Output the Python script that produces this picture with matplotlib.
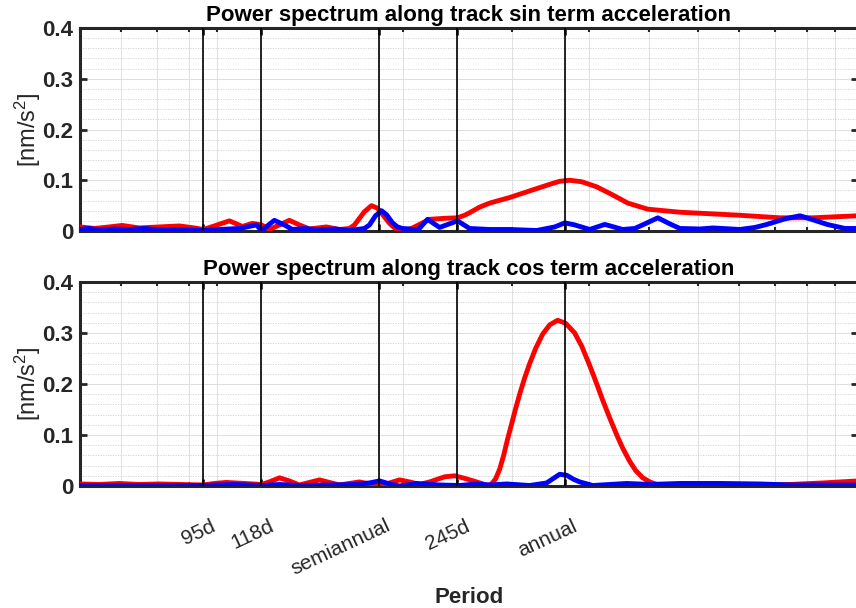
import matplotlib
matplotlib.use("Agg")
import matplotlib.pyplot as plt
from matplotlib.ticker import FixedLocator, LogLocator, MultipleLocator, NullFormatter
from matplotlib.transforms import ScaledTranslation

plt.rcParams["font.family"] = ["Liberation Sans", "DejaVu Sans"]
plt.rcParams["mathtext.default"] = "regular"

# Data -------

# marked periods (days)
mark_periods = [95, 118, 182.625, 245, 365.25]
mark_labels = ["95d", "118d", "semiannual", "245d", "annual"]

y_ticks = [0, 0.1, 0.2, 0.3, 0.4]
y_labels = ["0", "0.1", "0.2", "0.3", "0.4"]

# sin term, red
sin_red_period = [60, 63.3, 66.9, 70.2, 74.8, 80.6, 86.9, 91.9, 95, 99.0, 104.7, 109.9,
                  114.1, 118.0, 121.5, 126.2, 130.9, 135.9, 141.1, 150.3, 157.8, 163.8,
                  166.9, 170.0, 173.2, 177.8, 181.8, 186.0, 190.2, 193.8, 197.4, 201.9,
                  207.2, 220.8, 233.5, 245, 251.6, 256.3, 266.0, 276.2, 297.6, 320.6,
                  345.5, 352.0, 358.6, 372.2, 389.3, 411.7, 435.4, 462.2, 498.0, 561.2,
                  604.6, 702.0, 815.0, 921.8, 1000.6, 1090]
sin_red_power = [0.008, 0.005, 0.008, 0.011, 0.006, 0.008, 0.010, 0.006, 0.003, 0.010, 0.020, 0.009,
                 0.015, 0.012, 0.003, 0.012, 0.021, 0.012, 0.004, 0.008, 0.003, 0.005,
                 0.012, 0.025, 0.038, 0.050, 0.045, 0.030, 0.015, 0.006, 0.001, 0.001,
                 0.006, 0.023, 0.025, 0.026, 0.031, 0.036, 0.047, 0.055, 0.066, 0.079,
                 0.092, 0.095, 0.098, 0.100, 0.097, 0.087, 0.072, 0.055, 0.043, 0.037,
                 0.035, 0.031, 0.026, 0.026, 0.028, 0.030]

# sin term, blue
sin_blue_period = [60, 62.1, 64.4, 68.2, 72.1, 76.2, 80.6, 85.3, 90.2, 95, 100.8, 108.7,
                   112.8, 115.8, 118.0, 120.6, 123.8, 128.5, 132.4, 138.5, 146.5, 154.9,
                   163.8, 173.2, 176.5, 180.5, 184.6, 188.1, 192.3, 195.9, 199.6, 204.9,
                   211.1, 219.1, 229.2, 245, 256.3, 276.2, 297.6, 329.1, 352.0, 365.4,
                   379.2, 401.1, 424.2, 453.6, 474.4, 492.5, 516.9, 540.6, 561.2, 604.6,
                   634.8, 702.0, 742.4, 776.3, 830.3, 878.1, 911.5, 971.2, 1038.7, 1090]
sin_blue_power = [0.003, 0.005, 0.002, 0.004, 0.003, 0.005, 0.002, 0.003, 0.002, 0.001, 0.003, 0.005,
                  0.009, 0.012, 0.001, 0.010, 0.021, 0.012, 0.003, 0.005, 0.002, 0.004,
                  0.001, 0.005, 0.012, 0.030, 0.040, 0.032, 0.016, 0.008, 0.005, 0.004,
                  0.001, 0.023, 0.007, 0.020, 0.005, 0.003, 0.003, 0.001, 0.008, 0.016,
                  0.012, 0.003, 0.013, 0.003, 0.005, 0.014, 0.026, 0.014, 0.005, 0.004,
                  0.006, 0.003, 0.007, 0.013, 0.024, 0.030, 0.024, 0.013, 0.005, 0.005]

# cos term, red
cos_red_period = [60, 64.4, 69.4, 74.8, 80.6, 86.9, 95, 99.0, 103.5, 110.7, 118.0, 121.5,
                  126.2, 130.9, 135.9, 141.1, 146.5, 152.0, 157.8, 163.8, 170.0, 176.5,
                  182.6, 190.2, 197.4, 204.9, 212.7, 220.8, 233.5, 242.4, 251.6, 263.1,
                  274.1, 278.2, 282.4, 286.7, 291.0, 295.3, 299.8, 304.3, 308.9, 314.7,
                  320.6, 327.9, 336.6, 345.5, 355.9, 366.7, 379.2, 389.3, 401.1, 411.7,
                  421.0, 432.2, 443.6, 453.6, 465.7, 476.2, 488.8, 501.7, 515.0, 540.6,
                  651.5, 756.3, 846.0, 956.8, 1090]
cos_red_power = [0.004, 0.003, 0.005, 0.003, 0.004, 0.003, 0.002, 0.005, 0.007, 0.005, 0.003, 0.008,
                 0.016, 0.010, 0.002, 0.007, 0.012, 0.007, 0.002, 0.005, 0.008, 0.004,
                 0.000, 0.006, 0.012, 0.008, 0.003, 0.008, 0.018, 0.020, 0.015, 0.008,
                 0.001, 0.004, 0.014, 0.033, 0.060, 0.092, 0.122, 0.152, 0.180, 0.212,
                 0.240, 0.270, 0.298, 0.316, 0.325, 0.319, 0.300, 0.274, 0.236, 0.200,
                 0.168, 0.133, 0.100, 0.074, 0.048, 0.030, 0.016, 0.008, 0.003, 0.001,
                 0.001, 0.002, 0.003, 0.006, 0.010]

# cos term, blue
cos_blue_period = [60, 69.4, 80.6, 95, 105.9, 118.0, 126.2, 135.9, 152.0, 166.9, 176.5, 183.2,
                   190.2, 197.4, 210.3, 229.2, 246.9, 263.1, 276.2, 294.3, 320.6, 341.6,
                   349.4, 358.6, 368.1, 377.8, 386.4, 405.6, 432.2, 460.5, 501.7, 561.2,
                   651.5, 756.3, 846.0, 1090]
cos_blue_power = [0.001, 0.001, 0.001, 0.001, 0.003, 0.001, 0.003, 0.001, 0.002, 0.003, 0.006, 0.010,
                  0.004, 0.000, 0.005, 0.002, 0.001, 0.004, 0.002, 0.004, 0.001, 0.006,
                  0.014, 0.023, 0.021, 0.013, 0.008, 0.001, 0.003, 0.005, 0.003, 0.005,
                  0.005, 0.004, 0.002, 0.002]

titles = ["Power spectrum along track sin term acceleration",
          "Power spectrum along track cos term acceleration"]

# Plot -------

text_color = "#262626"
fig = plt.figure(figsize=(8.56, 6.08), dpi=100)
ax_top = fig.add_axes([80 / 856, (608 - 231) / 608, 778 / 856, 203 / 608])
ax_bot = fig.add_axes([80 / 856, (608 - 486) / 608, 778 / 856, 204 / 608])

panels = [
    (ax_top, sin_red_period, sin_red_power, sin_blue_period, sin_blue_power, titles[0]),
    (ax_bot, cos_red_period, cos_red_power, cos_blue_period, cos_blue_power, titles[1]),
]

for ax, rp, rv, bp, bv, title in panels:
    ax.plot(rp, rv, color="red", lw=3.5, zorder=3, solid_joinstyle="round")
    ax.plot(bp, bv, color="blue", lw=3.5, zorder=4, solid_joinstyle="round")
    for p in mark_periods:
        ax.axvline(p, color="black", lw=1.2, zorder=5)

    ax.set_xscale("log")
    ax.set_xlim(60, 1090)
    ax.set_ylim(0, 0.4)

    ax.xaxis.set_major_locator(FixedLocator(mark_periods))
    ax.xaxis.set_minor_locator(LogLocator(base=10, subs=range(1, 10), numticks=20))
    ax.xaxis.set_minor_formatter(NullFormatter())
    ax.set_yticks(y_ticks)
    ax.set_yticklabels(y_labels, fontsize=16, fontweight="bold", color=text_color)
    ax.yaxis.set_minor_locator(MultipleLocator(0.02))

    ax.grid(True, which="major", color="#dedede", lw=0.7, zorder=0)
    ax.grid(True, which="minor", axis="y", color="#d0d0d0", lw=0.6, ls=(0, (1.5, 1.5)), zorder=0)
    ax.grid(True, which="minor", axis="x", color="#e0e0e0", lw=0.7, zorder=0)
    ax.set_axisbelow(True)

    ax.tick_params(which="both", direction="in", top=True, right=True, colors=text_color)
    ax.tick_params(which="major", length=5, width=2, pad=5)
    ax.tick_params(axis="y", which="minor", length=0)
    ax.tick_params(axis="x", which="minor", length=3, width=1.5)
    for s in ax.spines.values():
        s.set_linewidth(2.2)
        s.set_color(text_color)

    ax.set_title(title, fontsize=16, fontweight="bold", color="black", pad=5)
    ax.set_ylabel("[nm/s$^2$]", fontsize=17, color=text_color)
    ax.yaxis.set_label_coords(-0.048, 0.5)

ax_top.set_xticklabels([])
ax_bot.set_xticklabels(mark_labels, rotation=25, ha="right", va="top",
                       rotation_mode="anchor", fontsize=15, color=text_color)
ax_bot.tick_params(axis="x", which="major", pad=22)
shift = ScaledTranslation(7 / 100, 0, fig.dpi_scale_trans)
for lab in ax_bot.get_xticklabels():
    lab.set_transform(lab.get_transform() + shift)

ax_bot.set_xlabel("Period", fontsize=16, fontweight="bold", color=text_color)
ax_bot.xaxis.set_label_coords(0.5, -0.495)

fig.savefig("out.png", dpi=100)
